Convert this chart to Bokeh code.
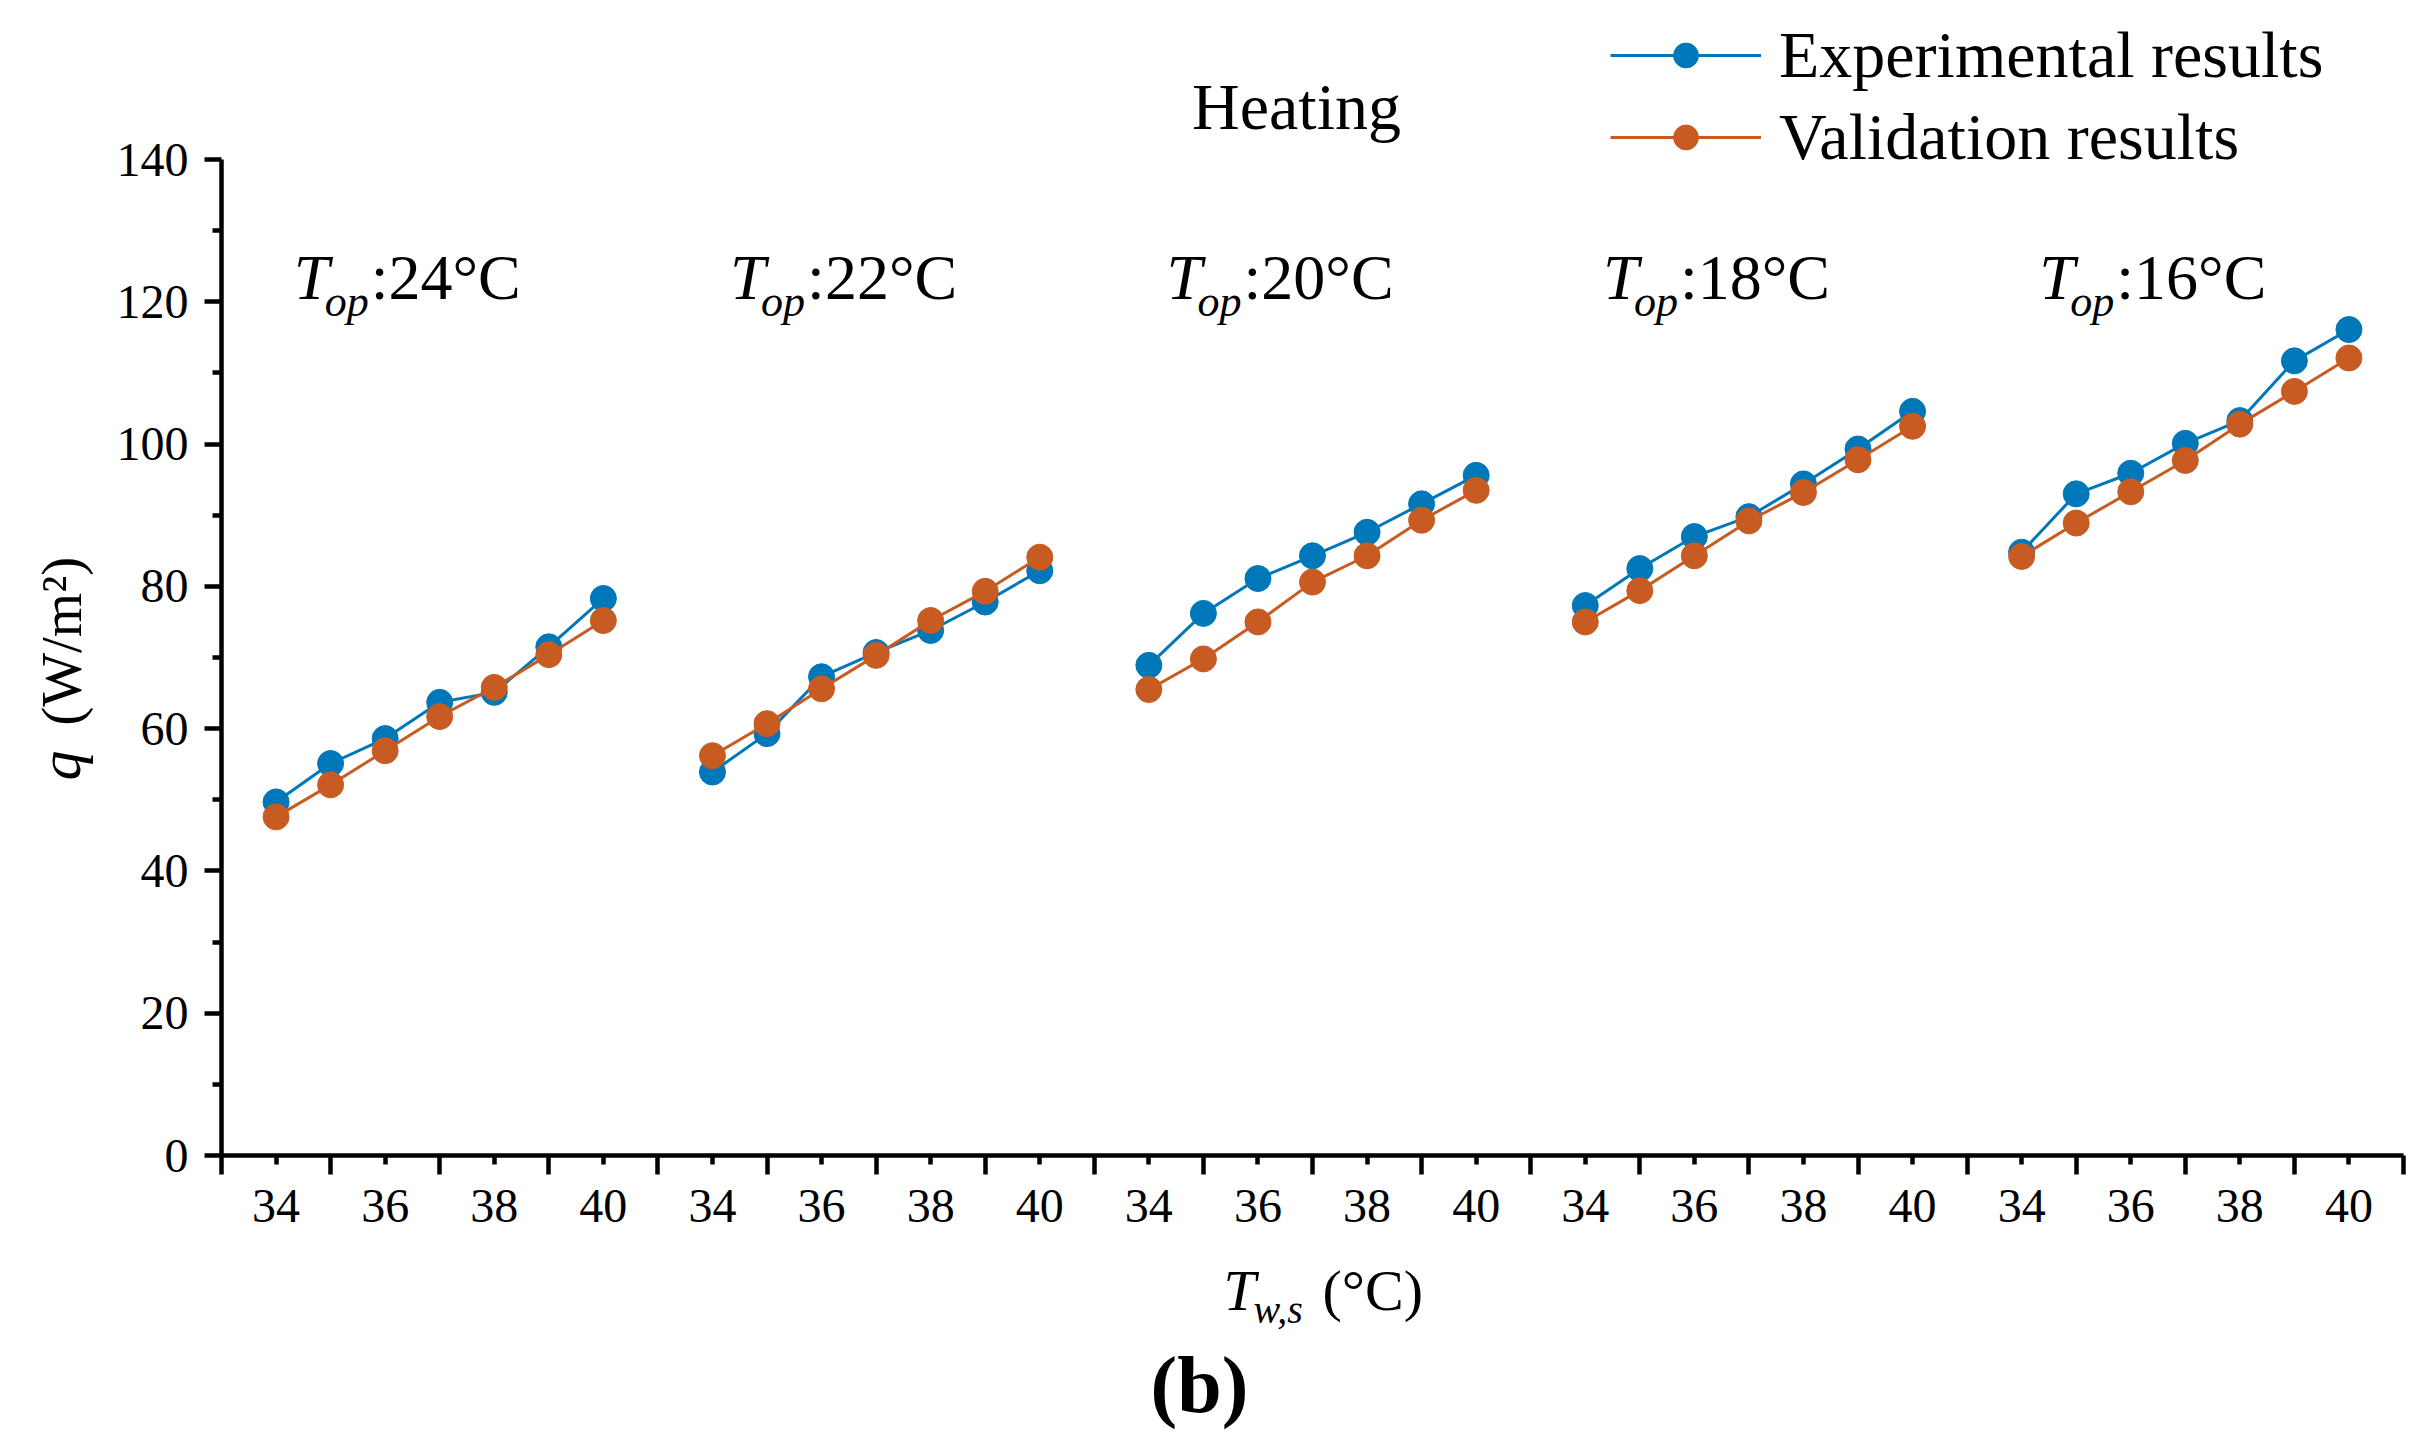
from math import pi
from bokeh.plotting import figure
from bokeh.models import Range1d, FixedTicker, Label, Legend, LegendItem, LinearAxis
from bokeh.embed import file_html
from bokeh.resources import INLINE

#supply water temperature inside each group (x axis)
t_ws = [34, 35, 36, 37, 38, 39, 40]
#operative temperature of every group (left to right)
t_op = [24, 22, 20, 18, 16]

#Experimental results, q (W/m2)
exp_24 = [49.7, 55.1, 58.6, 63.7, 65.1, 71.5, 78.3]
exp_22 = [53.9, 59.3, 67.3, 70.7, 73.8, 77.8, 82.2]
exp_20 = [68.9, 76.2, 81.1, 84.3, 87.6, 91.6, 95.6]
exp_18 = [77.3, 82.5, 87.0, 89.8, 94.4, 99.3, 104.6]
exp_16 = [84.8, 93.0, 95.9, 100.1, 103.3, 111.7, 116.1]

#Validation results, q (W/m2)
val_24 = [47.6, 52.1, 56.9, 61.7, 65.8, 70.4, 75.2]
val_22 = [56.2, 60.7, 65.6, 70.3, 75.2, 79.3, 84.1]
val_20 = [65.5, 69.8, 75.0, 80.6, 84.3, 89.3, 93.5]
val_18 = [75.0, 79.4, 84.3, 89.2, 93.2, 97.8, 102.5]
val_16 = [84.2, 88.9, 93.3, 97.7, 102.8, 107.4, 112.1]

#labelled x ticks
tick_labels = [34, 36, 38, 40]

experimental = [exp_24, exp_22, exp_20, exp_18, exp_16]
validation = [val_24, val_22, val_20, val_18, val_16]

blue = "#0077B8"
orange = "#C75B22"
serif = "Liberation Serif"

#Each group takes 8 slots on the x axis
slots = len(t_ws) + 1
x_max = slots * len(t_op)
y_max = 140

#Page size and where the axes sit on it (pixels)
W, H = 2412, 1445
left, right, top, bottom = 221, 2403, 159, 1155
px = (right - left) / x_max
py = (bottom - top) / y_max

def group_x(g):
    return [g * slots + (t - t_ws[0] + 1) for t in t_ws]

#The frame fills the page, the axes are pinned at 0 so texts outside are not clipped
p = figure(width=W, height=H,
           x_range=Range1d(-left / px, x_max + (W - right) / px),
           y_range=Range1d(-(H - bottom) / py, y_max + top / py),
           x_axis_type=None, y_axis_type=None,
           output_backend="svg", toolbar_location=None,
           min_border=0)
p.grid.visible = False
p.outline_line_color = None
p.background_fill_color = "white"
p.border_fill_color = "white"

#Plot every group as its own line
blue_r = []
orange_r = []
for g in range(len(t_op)):
    xs = group_x(g)
    l1 = p.line(xs, experimental[g], line_color=blue, line_width=3)
    s1 = p.scatter(xs, experimental[g], size=26, fill_color=blue, line_color=blue)
    blue_r += [l1, s1]
for g in range(len(t_op)):
    xs = group_x(g)
    l2 = p.line(xs, validation[g], line_color=orange, line_width=3)
    s2 = p.scatter(xs, validation[g], size=26, fill_color=orange, line_color=orange)
    orange_r += [l2, s2]

#x axis ticks: short labelled ones and long ones between
major = []
minor = []
overrides = {}
for g in range(len(t_op)):
    for t in t_ws:
        x = g * slots + (t - t_ws[0] + 1)
        if t in tick_labels:
            major.append(x)
            overrides[x] = str(t)
        else:
            minor.append(x)
    minor.append(g * slots)
minor.append(x_max)

xa = LinearAxis(fixed_location=0, bounds=(0, x_max))
xa.ticker = FixedTicker(ticks=major, minor_ticks=minor)
xa.major_label_overrides = overrides
xa.major_tick_out = 9
xa.major_tick_in = 0
xa.minor_tick_out = 19
xa.minor_tick_in = 0
xa.major_label_standoff = 15
p.add_layout(xa, "below")

ya = LinearAxis(fixed_location=0, bounds=(0, y_max))
ya.ticker = FixedTicker(ticks=list(range(0, 141, 20)), minor_ticks=list(range(10, 140, 20)))
ya.major_tick_out = 17
ya.major_tick_in = 0
ya.minor_tick_out = 9
ya.minor_tick_in = 0
ya.major_label_standoff = 16
p.add_layout(ya, "left")

for ax in [xa, ya]:
    ax.axis_line_width = 4.5
    ax.axis_line_color = "black"
    ax.major_tick_line_width = 4.5
    ax.minor_tick_line_width = 4.5
    ax.major_tick_line_color = "black"
    ax.minor_tick_line_color = "black"
    ax.major_label_text_font = serif
    ax.major_label_text_font_size = "48px"
    ax.major_label_text_color = "black"

#texts are placed by their baseline; lift them by the box offset seen in the render
def label(x, y, text, size, style="normal", dx=0, align="left", angle=0):
    lift = 0.39 * size
    if angle:
        ox, oy = dx - lift, 0
    else:
        ox, oy = dx, lift
    p.add_layout(Label(x=x, y=y, x_offset=ox, y_offset=oy, text=text, text_font=serif,
                       text_font_style=style, text_font_size="%dpx" % size,
                       text_color="black", text_align=align,
                       text_baseline="alphabetic", angle=angle))

#Group titles T_op:xx°C
for g in range(len(t_op)):
    cx = g * slots + slots / 2
    label(cx, 119.9, "T", 64, "italic", -146)
    label(cx, 117.6, "op", 44, "italic", -115)
    label(cx, 119.9, ":%d°C" % t_op[g], 64, "normal", -69)

mid = x_max / 2
label(mid, 143.8, "Heating", 66, dx=-16, align="center")

#x axis title and panel letter
label(mid, -22.2, "T", 58, "italic", -89)
label(mid, -23.9, "w,s", 40, "italic", -59)
label(mid, -22.2, "(°C)", 58, "normal", 10)
label(mid, -36.6, "(b)", 80, "bold", -113, align="center")

#y axis title (rotated)
label(-2.53, 52.7, "q", 60, "italic", angle=pi / 2)
label(-2.53, 60.4, "(W/m²)", 57, angle=pi / 2)

#Legend
legend = Legend(items=[LegendItem(label="Experimental results", renderers=blue_r[:2]),
                       LegendItem(label="Validation results", renderers=orange_r[:2])],
                location=(1610, H - 175), orientation="vertical",
                glyph_width=151, glyph_height=62, label_height=75,
                label_standoff=18, spacing=6, padding=0, margin=0,
                border_line_color=None, background_fill_alpha=0,
                label_text_font=serif, label_text_font_size="66px",
                label_text_color="black")
p.add_layout(legend, "center")

open("out.html", "w").write(file_html(p, INLINE))
